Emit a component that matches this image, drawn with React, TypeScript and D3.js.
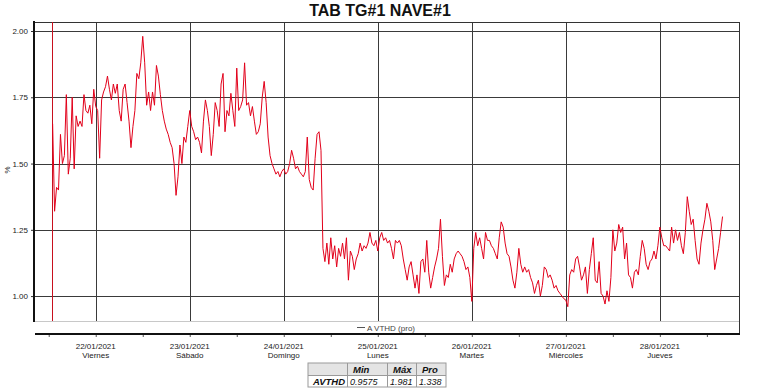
import React, { useRef, useEffect } from "react";
import * as d3 from "d3";

// A VTHD (pro), 30-min readings, one array per day
const thd21 = [1.65, 1.32, 1.41, 1.40, 1.61, 1.50, 1.53, 1.76, 1.46, 1.52, 1.75, 1.48, 1.68, 1.64, 1.66, 1.64, 1.76, 1.70, 1.69, 1.72, 1.65, 1.78];
const thd22 = [1.715, 1.70, 1.52, 1.74, 1.77, 1.79, 1.83, 1.78, 1.74, 1.80, 1.765, 1.80, 1.70, 1.66, 1.78, 1.80, 1.73, 1.66, 1.56, 1.64, 1.70, 1.84, 1.82, 1.88, 1.98, 1.88, 1.72, 1.77, 1.70, 1.77, 1.72, 1.87, 1.83, 1.76, 1.70, 1.66, 1.63, 1.61, 1.58, 1.56, 1.50, 1.38, 1.45, 1.57, 1.50, 1.60, 1.58, 1.64];
const thd23 = [1.70, 1.64, 1.62, 1.59, 1.60, 1.58, 1.54, 1.66, 1.74, 1.70, 1.64, 1.53, 1.61, 1.73, 1.70, 1.64, 1.80, 1.84, 1.62, 1.70, 1.68, 1.765, 1.70, 1.64, 1.86, 1.70, 1.715, 1.74, 1.88, 1.72, 1.73, 1.68, 1.715, 1.66, 1.61, 1.62, 1.65, 1.75, 1.81, 1.73, 1.60, 1.53, 1.50, 1.48, 1.46, 1.47, 1.45, 1.47];
const thd24 = [1.48, 1.46, 1.47, 1.50, 1.55, 1.52, 1.48, 1.49, 1.47, 1.46, 1.45, 1.47, 1.60, 1.44, 1.41, 1.40, 1.52, 1.61, 1.62, 1.55, 1.18, 1.13, 1.20, 1.12, 1.22, 1.14, 1.19, 1.11, 1.18, 1.15, 1.20, 1.14, 1.22, 1.06, 1.17, 1.15, 1.10, 1.14, 1.16, 1.20, 1.17, 1.19, 1.18, 1.20, 1.24, 1.20, 1.19, 1.21];
const thd25 = [1.17, 1.22, 1.24, 1.21, 1.22, 1.20, 1.21, 1.18, 1.14, 1.21, 1.20, 1.21, 1.19, 1.14, 1.10, 1.06, 1.11, 1.13, 1.08, 1.03, 1.08, 1.01, 1.13, 1.14, 1.09, 1.21, 1.09, 1.03, 1.07, 1.11, 1.14, 1.18, 1.29, 1.15, 1.04, 1.08, 1.07, 1.12, 1.09, 1.14, 1.16, 1.17, 1.16, 1.15, 1.13, 1.10, 1.11, 1.07];
const thd26 = [0.98, 1.18, 1.24, 1.19, 1.22, 1.18, 1.14, 1.24, 1.21, 1.21, 1.19, 1.18, 1.16, 1.14, 1.22, 1.28, 1.26, 1.20, 1.16, 1.15, 1.11, 1.06, 1.03, 1.09, 1.18, 1.12, 1.09, 1.11, 1.09, 1.10, 1.07, 1.05, 1.01, 1.04, 1.06, 1.00, 1.04, 1.11, 1.10, 1.07, 1.08, 1.06, 1.03, 1.04, 1.02, 1.01, 1.00, 0.99];
const thd27 = [0.985, 0.96, 1.08, 1.10, 1.09, 1.14, 1.15, 1.11, 1.06, 1.08, 1.11, 1.01, 1.10, 1.16, 1.22, 1.06, 1.05, 1.13, 1.01, 1.00, 0.97, 1.02, 0.98, 1.07, 1.25, 1.17, 1.20, 1.27, 1.24, 1.26, 1.14, 1.20, 1.08, 1.07, 1.03, 1.09, 1.10, 1.08, 1.15, 1.21, 1.18, 1.12, 1.10, 1.13, 1.14, 1.17, 1.14, 1.19];
const thd28 = [1.26, 1.22, 1.19, 1.19, 1.18, 1.17, 1.26, 1.20, 1.25, 1.21, 1.24, 1.19, 1.16, 1.24, 1.375, 1.32, 1.27, 1.29, 1.21, 1.14, 1.12, 1.20, 1.25, 1.29, 1.35, 1.32, 1.28, 1.21, 1.10, 1.14, 1.18, 1.24, 1.30];

const dayLabels = ["22/01/2021", "23/01/2021", "24/01/2021", "25/01/2021", "26/01/2021", "27/01/2021", "28/01/2021"];
const dayNames = ["Viernes", "Sábado", "Domingo", "Lunes", "Martes", "Miércoles", "Jueves"];
const yTicks = [1.0, 1.25, 1.5, 1.75, 2.0];
const statHeaders = ["", "Min", "Máx", "Pro"];
const statRow = ["AVTHD", "0.9575", "1.981", "1.338"];

const FONT = "'Liberation Sans', Arial, sans-serif";
const RED = "#e2001a";

const App = () => {
  const ref = useRef(null);

  useEffect(() => {
    const svg = d3.select(ref.current);
    svg.selectAll("*").remove();

    const left = 35, right = 739, top = 22, plotBottom = 321, axisY = 334;

    // build the series from the per-day arrays
    const days = [
      { start: Date.UTC(2021, 0, 21, 13), vals: thd21 },
      { start: Date.UTC(2021, 0, 22), vals: thd22 },
      { start: Date.UTC(2021, 0, 23), vals: thd23 },
      { start: Date.UTC(2021, 0, 24), vals: thd24 },
      { start: Date.UTC(2021, 0, 25), vals: thd25 },
      { start: Date.UTC(2021, 0, 26), vals: thd26 },
      { start: Date.UTC(2021, 0, 27), vals: thd27 },
      { start: Date.UTC(2021, 0, 28), vals: thd28 },
    ];
    const data = days.flatMap((d) =>
      d.vals.map((v, i) => ({ t: new Date(d.start + i * 30 * 60000), v }))
    );

    const x = d3
      .scaleUtc()
      .domain([new Date(Date.UTC(2021, 0, 21, 8, 30)), new Date(Date.UTC(2021, 0, 28, 20, 12))])
      .range([left, right]);
    const y = d3.scaleLinear().domain([0.906, 2.034]).range([plotBottom, top]);

    const dayDates = dayLabels.map((_, i) => new Date(Date.UTC(2021, 0, 22 + i)));

    // grid
    svg.append("g")
      .selectAll("line")
      .data(yTicks)
      .join("line")
      .attr("x1", left).attr("x2", right)
      .attr("y1", (d) => Math.round(y(d)) + 0.5).attr("y2", (d) => Math.round(y(d)) + 0.5)
      .attr("stroke", "#3a3a3a");
    svg.append("g")
      .selectAll("line")
      .data(dayDates)
      .join("line")
      .attr("x1", (d) => Math.round(x(d)) + 0.5).attr("x2", (d) => Math.round(x(d)) + 0.5)
      .attr("y1", top).attr("y2", plotBottom)
      .attr("stroke", "#3a3a3a");

    // frame
    svg.append("line").attr("x1", left).attr("x2", right).attr("y1", top + 0.5).attr("y2", top + 0.5).attr("stroke", "#333");
    svg.append("line").attr("x1", right + 0.5).attr("x2", right + 0.5).attr("y1", top).attr("y2", axisY).attr("stroke", "#333");
    svg.append("line").attr("x1", left).attr("x2", right).attr("y1", plotBottom + 0.5).attr("y2", plotBottom + 0.5).attr("stroke", "#c8c8c8");

    // start marker
    svg.append("line")
      .attr("x1", Math.round(x(data[0].t)) - 0.5).attr("x2", Math.round(x(data[0].t)) - 0.5)
      .attr("y1", top).attr("y2", plotBottom)
      .attr("stroke", "#c8101e");

    // series
    const line = d3.line().x((d) => x(d.t)).y((d) => y(d.v));
    svg.append("path")
      .datum(data)
      .attr("d", line)
      .attr("fill", "none")
      .attr("stroke", RED)
      .attr("stroke-width", 1);

    // y axis
    const ya = svg.append("g")
      .attr("transform", `translate(${left - 1},0)`)
      .call(d3.axisLeft(y).tickValues(yTicks).tickFormat(d3.format(".2f")).tickSize(3).tickPadding(3));
    ya.select(".domain").remove();
    ya.selectAll("text").attr("font-family", FONT).attr("font-size", 8).attr("fill", "#222");
    ya.selectAll("line").attr("stroke", "#333");
    svg.append("line").attr("x1", left - 1).attr("x2", left - 1).attr("y1", top - 1).attr("y2", plotBottom + 1).attr("stroke", "#111").attr("stroke-width", 2);

    svg.append("text")
      .attr("transform", "translate(10,170) rotate(-90)")
      .attr("text-anchor", "middle")
      .attr("font-family", FONT).attr("font-size", 8).attr("fill", "#222")
      .text("%");

    // x axis
    const xa = svg.append("g")
      .attr("transform", `translate(0,${axisY})`)
      .call(d3.axisBottom(x).ticks(d3.utcHour.every(12)).tickSize(3).tickFormat(() => ""));
    xa.select(".domain").remove();
    xa.selectAll("line").attr("stroke", "#555");
    svg.append("line").attr("x1", left).attr("x2", right + 1).attr("y1", axisY).attr("y2", axisY).attr("stroke", "#111").attr("stroke-width", 2);

    const lbl = svg.append("g").attr("font-family", FONT).attr("font-size", 8).attr("fill", "#222").attr("text-anchor", "middle");
    lbl.selectAll(".d").data(dayDates).join("text").attr("class", "d")
      .attr("x", (d) => x(d)).attr("y", 348.5).text((_, i) => dayLabels[i]);
    lbl.selectAll(".n").data(dayDates).join("text").attr("class", "n")
      .attr("x", (d) => x(d)).attr("y", 357.5).text((_, i) => dayNames[i]);

    // legend
    svg.append("line").attr("x1", 357).attr("x2", 365).attr("y1", 327.5).attr("y2", 327.5).attr("stroke", "#555");
    svg.append("text").attr("x", 367).attr("y", 330.5)
      .attr("font-family", FONT).attr("font-size", 8).attr("fill", "#444")
      .text("A VTHD (pro)");

    // title
    svg.append("text").attr("x", 380).attr("y", 15.5).attr("text-anchor", "middle")
      .attr("font-family", FONT).attr("font-size", 16).attr("font-weight", "bold").attr("fill", "#111")
      .text("TAB TG#1 NAVE#1");

    // stats table
    const colX = [308, 347, 387, 416, 446];
    const rowY = [363, 375, 387];
    const tbl = svg.append("g").attr("font-family", FONT).attr("font-style", "italic");
    tbl.append("rect").attr("x", colX[0]).attr("y", rowY[0]).attr("width", colX[4] - colX[0]).attr("height", rowY[1] - rowY[0]).attr("fill", "#e4e4e4");
    tbl.append("rect").attr("x", colX[0]).attr("y", rowY[0]).attr("width", colX[4] - colX[0]).attr("height", rowY[2] - rowY[0])
      .attr("fill", "none").attr("stroke", "#9a9a9a");
    colX.slice(1, 4).forEach((cx) =>
      tbl.append("line").attr("x1", cx + 0.5).attr("x2", cx + 0.5).attr("y1", rowY[0]).attr("y2", rowY[2]).attr("stroke", "#9a9a9a"));
    tbl.append("line").attr("x1", colX[0]).attr("x2", colX[4]).attr("y1", rowY[1] + 0.5).attr("y2", rowY[1] + 0.5).attr("stroke", "#9a9a9a");
    statHeaders.forEach((h, i) =>
      tbl.append("text").attr("x", colX[i] + 6).attr("y", rowY[0] + 9.5)
        .attr("font-size", 9.5).attr("font-weight", "bold").attr("fill", "#111").text(h));
    statRow.forEach((s, i) =>
      tbl.append("text").attr("x", colX[i] + (i === 0 ? 5 : 3)).attr("y", rowY[1] + 9.5)
        .attr("font-size", i === 0 ? 9.5 : 9).attr("font-weight", i === 0 ? "bold" : "normal").attr("fill", "#111").text(s));
  }, []);

  return (
    <div style={{ position: "absolute", left: 0, top: 0, width: 761, height: 389, background: "#fff" }}>
      <svg ref={ref} width={761} height={389}></svg>
    </div>
  );
};

export default App;
